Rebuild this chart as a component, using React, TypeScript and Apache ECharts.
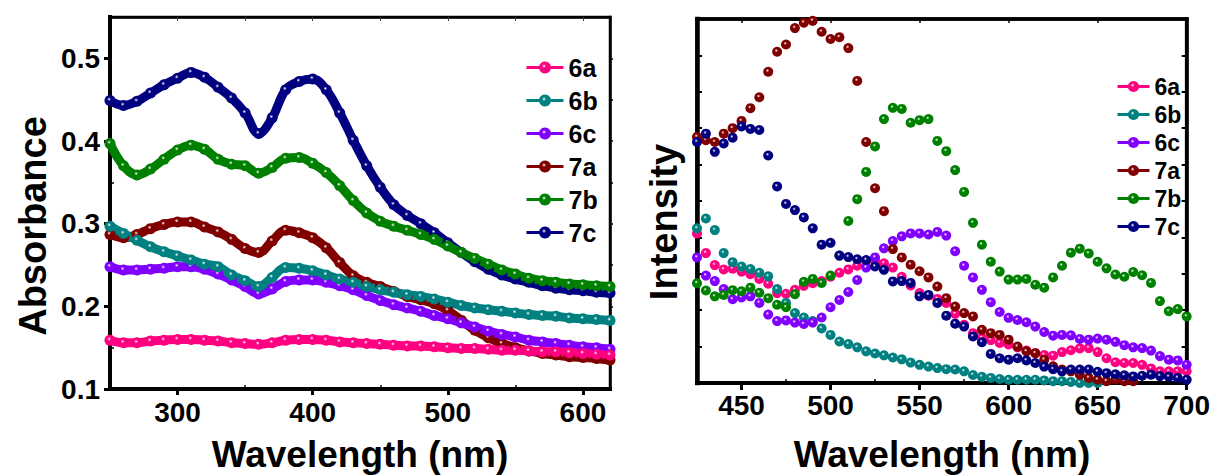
import React, { useEffect, useRef } from "react";
import * as echarts from "echarts";

// ---------- Data ----------
const seriesNames = ["6a", "6b", "6c", "7a", "7b", "7c"];
const seriesColors = ["#FF0080", "#008080", "#8000FF", "#800000", "#008000", "#000080"];

// Left panel: absorbance vs wavelength (nm)
const absWavelength = [
  250, 260, 270, 280, 290, 300, 310, 320, 330, 340, 350, 360, 370, 380, 390, 400, 410, 420, 430,
  440, 450, 460, 470, 480, 490, 500, 510, 520, 530, 540, 550, 560, 570, 580, 590, 600, 610, 620,
];
const abs6a = [
  0.159, 0.156, 0.156, 0.158, 0.159, 0.16, 0.16, 0.159, 0.158, 0.156, 0.155, 0.154, 0.156, 0.159, 0.16,
  0.16, 0.159, 0.157, 0.156, 0.155, 0.154, 0.153, 0.152, 0.152, 0.151, 0.15, 0.149, 0.149, 0.148, 0.147,
  0.147, 0.146, 0.145, 0.145, 0.144, 0.143, 0.142, 0.141,
];
const abs6b = [
  0.297, 0.288, 0.28, 0.272, 0.266, 0.261, 0.256, 0.251, 0.248, 0.238, 0.231, 0.224, 0.235, 0.247, 0.246,
  0.243, 0.238, 0.233, 0.229, 0.224, 0.22, 0.217, 0.214, 0.212, 0.209, 0.205, 0.201, 0.198, 0.196, 0.194,
  0.192, 0.19, 0.189, 0.188, 0.186, 0.185, 0.184, 0.183,
];
const abs6c = [
  0.248, 0.244, 0.244, 0.245, 0.246, 0.248, 0.248, 0.245, 0.239, 0.232, 0.224, 0.215, 0.221, 0.23, 0.232,
  0.232, 0.229, 0.225, 0.22, 0.213, 0.207, 0.202, 0.198, 0.194, 0.189, 0.185, 0.18, 0.175, 0.17, 0.166,
  0.163, 0.159, 0.157, 0.155, 0.153, 0.151, 0.15, 0.148,
];
const abs7a = [
  0.287, 0.283, 0.287, 0.294, 0.299, 0.302, 0.302, 0.296, 0.29, 0.281, 0.27, 0.265, 0.279, 0.292, 0.289,
  0.283, 0.271, 0.253, 0.237, 0.229, 0.224, 0.218, 0.212, 0.208, 0.203, 0.195, 0.183, 0.171, 0.162, 0.155,
  0.15, 0.146, 0.143, 0.141, 0.139, 0.138, 0.137, 0.135,
];
const abs7b = [
  0.397, 0.37, 0.359, 0.366, 0.378, 0.389, 0.395, 0.39, 0.378, 0.372, 0.37, 0.361, 0.368, 0.379, 0.38,
  0.373, 0.362, 0.346, 0.328, 0.313, 0.303, 0.297, 0.292, 0.287, 0.281, 0.273, 0.265, 0.258, 0.251, 0.244,
  0.239, 0.234, 0.231, 0.229, 0.227, 0.226, 0.225, 0.224,
];
const abs7c = [
  0.449, 0.443, 0.448, 0.458, 0.468, 0.476, 0.483, 0.477, 0.465, 0.452, 0.434, 0.409, 0.428, 0.462, 0.472,
  0.475, 0.462, 0.434, 0.401, 0.37, 0.344, 0.323, 0.31, 0.3, 0.289, 0.277, 0.265, 0.254, 0.245, 0.238,
  0.233, 0.229, 0.225, 0.222, 0.22, 0.219, 0.217, 0.216,
];
const absXTicks = [300, 400, 500, 600];
const absXMinor = [350, 450, 550];
const absXTop = [300, 350, 400, 450, 500, 550, 600];
const absYTicks = [0.1, 0.2, 0.3, 0.4, 0.5];
const absYMinor = [0.15, 0.25, 0.35, 0.45];
const absYRight = [0.15, 0.2, 0.25, 0.3, 0.35, 0.4, 0.45, 0.5];

// Right panel: emission intensity (a.u.) vs wavelength (nm)
const emWavelength = [
  425, 430, 435, 440, 445, 450, 455, 460, 465, 470, 475, 480, 485, 490, 495, 500, 505, 510, 515, 520,
  525, 530, 535, 540, 545, 550, 555, 560, 565, 570, 575, 580, 585, 590, 595, 600, 605, 610, 615, 620,
  625, 630, 635, 640, 645, 650, 655, 660, 665, 670, 675, 680, 685, 690, 695, 700,
];
const em6a = [
  4.11, 3.57, 3.24, 3.12, 3.14, 3.06, 2.99, 2.86, 2.73, 2.47, 2.45, 2.56, 2.67, 2.74, 2.8, 2.92, 3.03, 3.12,
  3.22, 3.36, 3.35, 3.29, 3.17, 2.92, 2.68, 2.47, 2.4, 2.31, 2.2, 1.9, 1.6, 1.37, 1.24, 1.18, 1.1, 1.06,
  0.98, 0.89, 0.82, 0.77, 0.75, 0.85, 0.9, 0.95, 0.96, 0.85, 0.68, 0.57, 0.55, 0.55, 0.5, 0.4, 0.32, 0.32,
  0.32, 0.32,
];
const em6b = [
  4.25, 4.52, 4.2, 3.57, 3.32, 3.2, 3.13, 3.03, 2.93, 2.58, 2.2, 1.92, 1.8, 1.7, 1.5, 1.32, 1.14, 1.07,
  0.98, 0.87, 0.81, 0.76, 0.7, 0.65, 0.56, 0.5, 0.45, 0.41, 0.38, 0.37, 0.32, 0.22, 0.17, 0.14, 0.11, 0.09,
  0.09, 0.09, 0.09, 0.07, 0.05, 0.05, 0.03, 0.0, 0.0, 0.0, null, null, null, null, null, null, null, null,
  null, null,
];
const em6c = [
  3.45, 2.95, 2.8, 2.58, 2.3, 2.35, 2.38, 2.2, 1.88, 1.7, 1.72, 1.66, 1.62, 1.66, 1.8, 2.08, 2.28, 2.5,
  2.83, 3.17, 3.45, 3.7, 3.9, 4.03, 4.11, 4.11, 4.08, 4.15, 4.05, 3.62, 3.22, 2.9, 2.56, 2.22, 1.95, 1.79,
  1.73, 1.67, 1.55, 1.4, 1.3, 1.32, 1.31, 1.21, 1.19, 1.22, 1.19, 1.13, 1.04, 0.98, 0.96, 0.89, 0.74, 0.64,
  0.62, 0.5,
];
const em7a = [
  6.76, 6.67, 6.62, 6.85, 7.0, 7.2, 7.55, 7.85, 8.55, 9.1, 9.3, 9.75, 9.9, 9.95, 9.65, 9.45, 9.5, 9.2, 8.3,
  6.62, 5.35, 4.72, 3.68, 3.45, 3.25, 3.07, 2.9, 2.65, 2.33, 2.1, 1.92, 1.83, 1.46, 1.37, 1.32, 1.19, 1.0,
  0.87, 0.82, 0.64, 0.46, 0.37, 0.32, 0.23, 0.14, 0.09, 0.05, 0.09, 0.05, 0.05, null, null, null, null,
  null, null,
];
const em7b = [
  2.74, 2.54, 2.38, 2.42, 2.55, 2.52, 2.62, 2.48, 2.33, 2.15, 2.08, 2.44, 2.78, 2.86, 2.75, 2.95, 3.5, 4.45,
  5.05, 5.8, 6.5, 7.25, 7.56, 7.53, 7.15, 7.22, 7.25, 6.65, 6.37, 5.85, 5.25, 4.4, 3.8, 3.33, 3.06, 2.84,
  2.84, 2.86, 2.7, 2.62, 2.9, 3.22, 3.58, 3.69, 3.56, 3.33, 3.15, 2.98, 2.92, 3.05, 2.96, 2.75, 2.25, 1.97,
  2.03, 1.83,
];
const em7c = [
  6.62, 6.85, 6.35, 6.58, 6.74, 7.05, 6.98, 6.95, 6.25, 5.4, 4.92, 4.75, 4.55, 4.25, 3.8, 3.85, 3.5, 3.46,
  3.4, 3.38, 3.2, 3.11, 2.79, 2.8, 2.75, 2.38, 2.42, 2.2, 1.85, 1.63, 1.55, 1.28, 1.12, 0.8, 0.68, 0.64,
  0.68, 0.62, 0.55, 0.45, 0.38, 0.32, 0.37, 0.37, 0.37, 0.31, 0.27, 0.24, 0.21, 0.18, 0.2, 0.23, 0.19, 0.17,
  0.14, 0.09,
];
const emXTicks = [450, 500, 550, 600, 650, 700];
const emXMinor = [475, 525, 575, 625, 675];
const emYTicks = [1, 2, 3, 4, 5, 6, 7, 8, 9];

const absValues = [abs6a, abs6b, abs6c, abs7a, abs7b, abs7c];
const emValues = [em6a, em6b, em6c, em7a, em7b, em7c];

// ---------- Styling helpers ----------
const FONT = 'Arial, "Liberation Sans", Helvetica, sans-serif';

function sphere(c: string) {
  return {
    type: "radial",
    x: 0.42,
    y: 0.38,
    r: 0.62,
    colorStops: [
      { offset: 0, color: "#ffffff" },
      { offset: 0.28, color: c },
      { offset: 1, color: c },
    ],
  };
}

function axisLine(width: number) {
  return { show: true, onZero: false, lineStyle: { color: "#000", width, cap: "square" } };
}

function hiddenLabel() {
  return { show: false };
}

export default function App() {
  const ref = useRef<HTMLDivElement>(null);

  useEffect(() => {
    if (!ref.current) return;
    const chart = echarts.init(ref.current, null, { renderer: "svg" });

    const baseX = (grid: number, min: number, max: number) => ({
      type: "value",
      gridIndex: grid,
      min,
      max,
      splitLine: { show: false },
    });

    const xAxes = [
      // left panel bottom (major)
      {
        ...baseX(0, 250, 620),
        position: "bottom",
        axisLine: axisLine(4),
        axisTick: { show: true, customValues: absXTicks, length: 6, inside: false, lineStyle: { color: "#000", width: 3 } },
        axisLabel: {
          show: true,
          customValues: absXTicks,
          margin: 9,
          fontSize: 28,
          fontWeight: "bold",
          fontFamily: FONT,
          color: "#000",
        },
      },
      // left panel bottom (minor)
      {
        ...baseX(0, 250, 620),
        position: "bottom",
        axisLine: { show: false },
        axisTick: { show: true, customValues: absXMinor, length: 4, inside: true, lineStyle: { color: "#000", width: 1.5 } },
        axisLabel: hiddenLabel(),
      },
      // left panel top
      {
        ...baseX(0, 250, 620),
        position: "top",
        axisLine: axisLine(2.5),
        axisTick: { show: true, customValues: absXTop, length: 4, inside: true, lineStyle: { color: "#444", width: 1 } },
        axisLabel: hiddenLabel(),
      },
      // right panel bottom (major)
      {
        ...baseX(1, 425, 700),
        position: "bottom",
        axisLine: axisLine(4),
        axisTick: { show: true, customValues: emXTicks, length: 7, inside: false, lineStyle: { color: "#000", width: 3 } },
        axisLabel: {
          show: true,
          customValues: emXTicks,
          margin: 8,
          fontSize: 28,
          fontWeight: "bold",
          fontFamily: FONT,
          color: "#000",
        },
      },
      // right panel bottom (minor)
      {
        ...baseX(1, 425, 700),
        position: "bottom",
        axisLine: { show: false },
        axisTick: { show: true, customValues: emXMinor, length: 4, inside: true, lineStyle: { color: "#000", width: 1.5 } },
        axisLabel: hiddenLabel(),
      },
      // right panel top
      {
        ...baseX(1, 425, 700),
        position: "top",
        axisLine: axisLine(3.5),
        axisTick: { show: true, customValues: emXTicks, length: 4, inside: true, lineStyle: { color: "#000", width: 1.5 } },
        axisLabel: hiddenLabel(),
      },
    ];

    const baseY = (grid: number, min: number, max: number) => ({
      type: "value",
      gridIndex: grid,
      min,
      max,
      splitLine: { show: false },
    });

    const yAxes = [
      // left panel left (major)
      {
        ...baseY(0, 0.1, 0.55),
        position: "left",
        axisLine: axisLine(4),
        axisTick: { show: true, customValues: absYTicks, length: 6, inside: false, lineStyle: { color: "#000", width: 3 } },
        axisLabel: {
          show: true,
          customValues: absYTicks,
          formatter: (v: number) => v.toFixed(1),
          margin: 10,
          fontSize: 28,
          fontWeight: "bold",
          fontFamily: FONT,
          color: "#000",
        },
      },
      // left panel left (minor)
      {
        ...baseY(0, 0.1, 0.55),
        position: "left",
        axisLine: { show: false },
        axisTick: { show: true, customValues: absYMinor, length: 4, inside: true, lineStyle: { color: "#000", width: 1.5 } },
        axisLabel: hiddenLabel(),
      },
      // left panel right border
      {
        ...baseY(0, 0.1, 0.55),
        position: "right",
        axisLine: axisLine(2.5),
        axisTick: { show: true, customValues: absYRight, length: 3, inside: false, lineStyle: { color: "#000", width: 1.5 } },
        axisLabel: hiddenLabel(),
      },
      // right panel left
      {
        ...baseY(1, 0, 10),
        position: "left",
        axisLine: axisLine(4.5),
        axisTick: { show: true, customValues: emYTicks, length: 5, inside: true, lineStyle: { color: "#000", width: 2 } },
        axisLabel: hiddenLabel(),
      },
      // right panel right border
      {
        ...baseY(1, 0, 10),
        position: "right",
        axisLine: axisLine(3.5),
        axisTick: { show: true, customValues: emYTicks, length: 5, inside: true, lineStyle: { color: "#000", width: 2 } },
        axisLabel: hiddenLabel(),
      },
    ];

    // Left panel series drawn in reverse order so that 6a lies on top
    const absSeries = seriesNames
      .map((name, i) => ({
        type: "line",
        name,
        xAxisIndex: 0,
        yAxisIndex: 0,
        data: absWavelength.map((x, j) => [x, absValues[i][j]]),
        smooth: 0.4,
        symbol: "circle",
        symbolSize: 11,
        showSymbol: true,
        lineStyle: { color: seriesColors[i], width: 9 },
        itemStyle: { color: sphere(seriesColors[i]) },
        emphasis: { disabled: true },
      }))
      .reverse();

    const emSeries = seriesNames.map((name, i) => ({
      type: "line",
      name,
      xAxisIndex: 3,
      yAxisIndex: 3,
      data: emWavelength.map((x, j) => [x, emValues[i][j]]),
      symbol: "circle",
      symbolSize: 10,
      showSymbol: true,
      lineStyle: { color: seriesColors[i], width: 0 },
      itemStyle: { color: sphere(seriesColors[i]) },
      emphasis: { disabled: true },
    }));

    const titleStyle = (text: string, size: number) => ({
      text,
      fontSize: size,
      fontWeight: "bold",
      fontFamily: FONT,
      fill: "#000",
      align: "center",
      verticalAlign: "middle",
      textAlign: "center",
      textVerticalAlign: "middle",
    });

    chart.setOption({
      animation: false,
      backgroundColor: "#ffffff",
      textStyle: { fontFamily: FONT },
      grid: [
        {
          left: 110, top: 17, width: 500, height: 372, containLabel: false,
          show: true, borderColor: "#000", borderWidth: 2.5, backgroundColor: "transparent",
        },
        {
          left: 697, top: 19, width: 490, height: 364, containLabel: false,
          show: true, borderColor: "#000", borderWidth: 3.5, backgroundColor: "transparent",
        },
      ],
      xAxis: xAxes,
      yAxis: yAxes,
      legend: [
        {
          orient: "vertical",
          left: 520,
          top: 50,
          itemWidth: 37,
          itemHeight: 15,
          itemGap: 8,
          selectedMode: false,
          data: seriesNames,
          lineStyle: { width: 3 },
          textStyle: { fontSize: 25, lineHeight: 25, fontWeight: "bold", color: "#000", fontFamily: FONT },
        },
        {
          orient: "vertical",
          left: 1111,
          top: 70,
          itemWidth: 32,
          itemHeight: 14,
          itemGap: 5,
          selectedMode: false,
          data: seriesNames,
          lineStyle: { width: 3 },
          textStyle: { fontSize: 23, lineHeight: 23, fontWeight: "bold", color: "#000", fontFamily: FONT },
        },
      ],
      graphic: [
        { type: "text", x: 33, y: 226, rotation: Math.PI / 2, style: titleStyle("Absorbance", 38) },
        { type: "text", x: 664, y: 222, rotation: Math.PI / 2, style: titleStyle("Intensity", 38) },
        { type: "text", x: 360, y: 454, style: titleStyle("Wavelength (nm)", 37) },
        { type: "text", x: 942, y: 454, style: titleStyle("Wavelength (nm)", 37) },
      ],
      series: [...absSeries, ...emSeries],
    } as any);

    return () => {
      chart.dispose();
    };
  }, []);

  return (
    <div
      ref={ref}
      style={{ position: "fixed", left: 0, top: 0, width: 1213, height: 475, background: "#fff" }}
    />
  );
}
